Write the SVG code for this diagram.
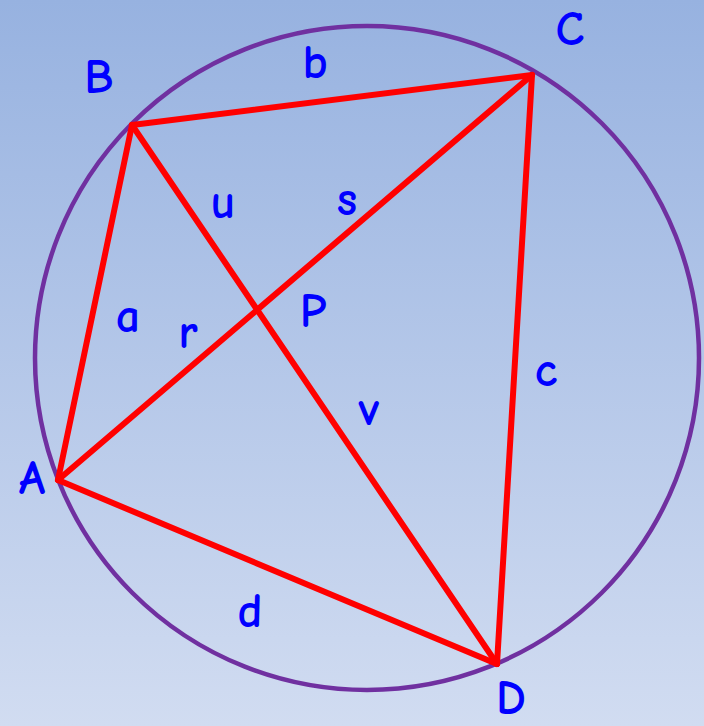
<svg xmlns="http://www.w3.org/2000/svg" width="704" height="726" viewBox="0 0 704 726">
<defs>
<linearGradient id="bg" x1="0" y1="0" x2="0" y2="1">
<stop offset="0" stop-color="#97b2e0"/>
<stop offset="1" stop-color="#d1dcf1"/>
</linearGradient>
<style>
.lbl{font-family:"Comic Sans MS","Comic Neue","DejaVu Sans",sans-serif;font-size:48px;font-weight:bold;fill:#0000ff;text-anchor:middle}
.edge{stroke:#ff0000;stroke-width:6;fill:none;stroke-linecap:round;stroke-linejoin:round}
</style>
</defs>
<rect width="704" height="726" fill="url(#bg)"/>
<g id="circle">
<circle cx="367" cy="358" r="332" fill="none" stroke="#7030a0" stroke-width="4.5"/>
</g>
<g id="connectors">
<line class="edge" x1="132" y1="125" x2="532" y2="75"/>
<line class="edge" x1="532" y1="75" x2="497" y2="664"/>
<line class="edge" x1="497" y1="664" x2="58" y2="480"/>
<line class="edge" x1="58" y1="480" x2="132" y2="125"/>
<line class="edge" x1="58" y1="480" x2="532" y2="75"/>
<line class="edge" x1="132" y1="125" x2="497" y2="664"/>
</g>
<g id="node-A"><text class="lbl" x="32" y="494">A</text></g>
<g id="node-B"><text class="lbl" x="99" y="93">B</text></g>
<g id="node-C"><text class="lbl" x="570" y="45">C</text></g>
<g id="node-D"><text class="lbl" x="511" y="714">D</text></g>
<g id="node-P"><text class="lbl" x="313" y="327">P</text></g>
<g id="labels">
<text class="lbl" x="315" y="78">b</text>
<text class="lbl" x="223" y="218">u</text>
<text class="lbl" x="347" y="215">s</text>
<text class="lbl" x="128" y="332">a</text>
<text class="lbl" x="188" y="348">r</text>
<text class="lbl" x="546" y="386">c</text>
<text class="lbl" x="369" y="425">v</text>
<text class="lbl" x="250" y="627">d</text>
</g>
</svg>
